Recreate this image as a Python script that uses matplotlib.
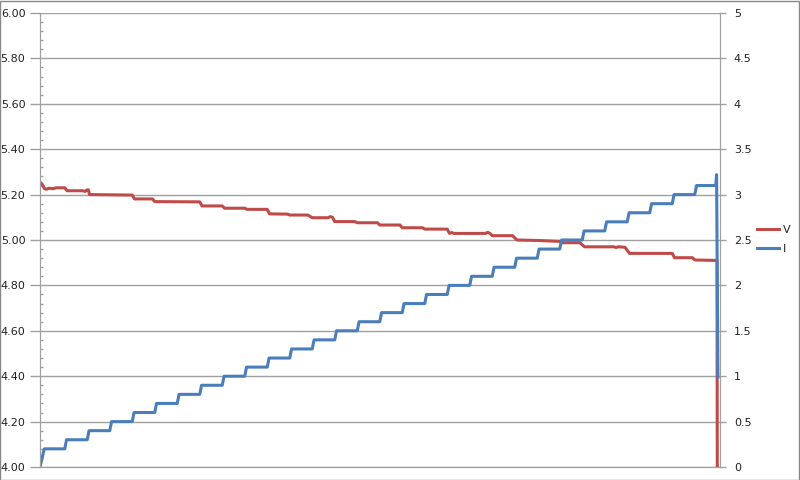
import matplotlib
matplotlib.use("Agg")
import matplotlib.pyplot as plt
from matplotlib.patches import Rectangle
from matplotlib.ticker import MultipleLocator, FormatStrFormatter

# voltage trace (sample index, volts)
v_t = [0, 1, 2, 3, 4, 6, 7, 11, 12, 19, 20, 21, 21.5, 22, 41, 42, 50, 51, 71, 72,
       81, 82, 91, 92, 101, 102, 110, 111, 119, 121, 128, 129, 130, 131, 140, 141,
       150, 151, 160, 161, 170, 171, 181, 182, 183, 184, 198, 199, 200, 201, 210,
       212, 221, 231, 232, 240, 242, 255, 256, 257, 260, 262, 281, 282, 290, 291,
       300.9, 301.5]
v_val = [5.255, 5.245, 5.226, 5.224, 5.228, 5.226, 5.230, 5.230, 5.217, 5.217,
         5.214, 5.221, 5.221, 5.200, 5.198, 5.181, 5.181, 5.169, 5.168, 5.150,
         5.150, 5.140, 5.140, 5.135, 5.135, 5.115, 5.114, 5.110, 5.110, 5.098,
         5.098, 5.103, 5.100, 5.081, 5.081, 5.076, 5.076, 5.066, 5.066, 5.054,
         5.054, 5.048, 5.048, 5.029, 5.033, 5.029, 5.029, 5.034, 5.029, 5.019,
         5.019, 5.000, 4.998, 4.994, 4.988, 4.988, 4.970, 4.970, 4.967, 4.970,
         4.968, 4.941, 4.941, 4.922, 4.922, 4.912, 4.910, 0.0]

# current steps: sample where each step starts and the new level (A)
i_step_t = [0, 11, 21, 31, 41, 51, 61, 71, 81, 91, 101, 111, 121, 131, 141, 151,
            161, 171, 181, 191, 201, 211, 221, 231, 241, 251, 261, 271, 281, 291]
i_level = [0.2, 0.3, 0.4, 0.5, 0.6, 0.7, 0.8, 0.9, 1.0, 1.1, 1.2, 1.3, 1.4, 1.5,
           1.6, 1.7, 1.8, 1.9, 2.0, 2.1, 2.2, 2.3, 2.4, 2.5, 2.6, 2.7, 2.8, 2.9,
           3.0, 3.1]
i_end_t = [300.3, 300.7, 301.3]
i_end_val = [3.1, 3.22, 0.99]

red = '#BE4B48'
blue = '#4A7EBB'
grey = '#a0a0a0'
txt = '#222222'

fig = plt.figure(figsize=(8, 4.8), dpi=100)
ax1 = fig.add_axes([0.05, 0.0271, 0.85, 0.9458])
ax2 = ax1.twinx()

# build current path
it, iv = [0], [0.0]
prev = 0.0
for t, lv in zip(i_step_t, i_level):
    rise = 1.9 if t == 0 else 0.8
    if t > 0:
        it.append(t)
        iv.append(prev)
    it.append(t + rise)
    iv.append(lv)
    prev = lv
it += i_end_t
iv += i_end_val

l1, = ax1.plot(v_t, v_val, color=red, lw=2.2, solid_joinstyle='round')
l2, = ax2.plot(it, iv, color=blue, lw=2.2, solid_joinstyle='round')

xmax = 680 / 2.25
ax1.set_xlim(0, xmax)
ax1.set_ylim(4.0, 6.0)
ax2.set_ylim(0, 5)

ax1.yaxis.set_major_locator(MultipleLocator(0.2))
ax1.yaxis.set_minor_locator(MultipleLocator(0.04))
ax1.yaxis.set_major_formatter(FormatStrFormatter('%.2f'))
ax2.yaxis.set_major_locator(MultipleLocator(0.5))
ax2.yaxis.set_major_formatter(plt.FuncFormatter(lambda v, p: ('%g' % v)))

ax1.grid(axis='y', which='major', color=grey, lw=1)
ax1.set_xticks([])
ax1.tick_params(axis='y', which='major', direction='out', length=7.5, width=1,
                color=grey, labelsize=8, labelcolor=txt, pad=3)
ax1.tick_params(axis='y', which='minor', direction='in', length=2.5, width=1,
                color=grey)
ax2.tick_params(axis='y', which='major', direction='out', length=4, width=1,
                color=grey, labelsize=8, labelcolor=txt, pad=6)

for ax in (ax1, ax2):
    for s in ax.spines.values():
        s.set_color(grey)
    ax.spines['top'].set_visible(False)

fig.legend([l1, l2], ['V', 'I'], loc='center left',
           bbox_to_anchor=(757 / 800, 1 - 239.5 / 480), frameon=False,
           fontsize=8, handlelength=2.0, handletextpad=0.3, labelspacing=0.75,
           borderpad=0, borderaxespad=0, labelcolor=txt)

fig.add_artist(Rectangle((0.0006, 0.001), 0.9985, 0.997, transform=fig.transFigure,
                         fill=False, edgecolor='#888888', lw=1))

fig.savefig('out.png', dpi=100)
